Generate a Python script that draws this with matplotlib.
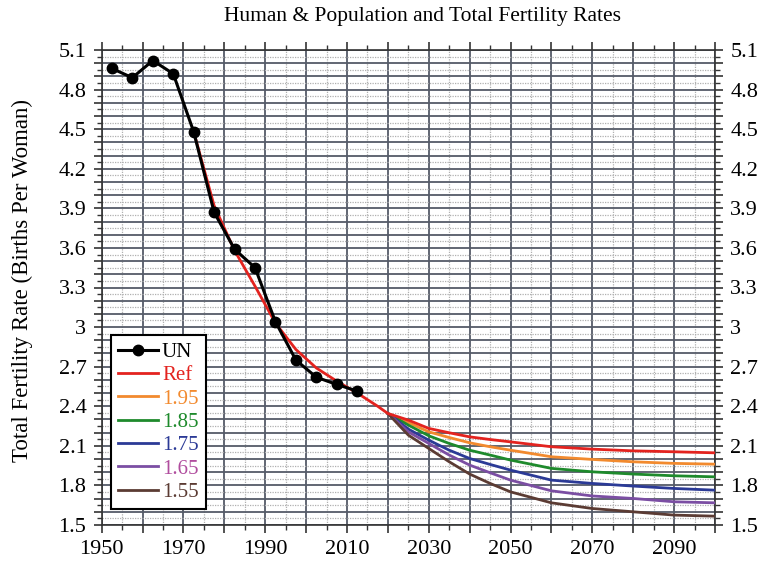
import matplotlib
matplotlib.use("Agg")
import matplotlib.pyplot as plt
from matplotlib.ticker import MultipleLocator, FuncFormatter

# ---- data ----
un_years = [1952.5, 1957.5, 1962.5, 1967.5, 1972.5, 1977.5, 1982.5, 1987.5,
            1992.5, 1997.5, 2002.5, 2007.5, 2012.5]
un_tfr = [4.96, 4.89, 5.02, 4.92, 4.48, 3.87, 3.59, 3.45, 3.04, 2.75, 2.62, 2.565, 2.515]

ref_years = [1972.5, 1977.5, 1982.5, 1987.5, 1992.5, 1997.5, 2002.5, 2007.5, 2012.5,
             2017.5, 2020, 2025, 2030, 2035, 2040, 2045, 2050, 2060, 2070, 2080, 2090, 2100]
ref_tfr = [4.48, 3.92, 3.58, 3.31, 3.03, 2.83, 2.69, 2.59, 2.50,
           2.40, 2.345, 2.295, 2.232, 2.199, 2.168, 2.148, 2.130, 2.093, 2.075, 2.062, 2.055, 2.047]

scen_years = [2020, 2025, 2030, 2035, 2040, 2045, 2050, 2060, 2070, 2080, 2090, 2100]
tfr_195 = [2.345, 2.277, 2.206, 2.163, 2.123, 2.093, 2.067, 2.017, 1.997, 1.979, 1.967, 1.961]
tfr_185 = [2.345, 2.257, 2.176, 2.118, 2.067, 2.030, 1.992, 1.929, 1.903, 1.886, 1.873, 1.865]
tfr_175 = [2.345, 2.227, 2.143, 2.067, 2.004, 1.959, 1.916, 1.840, 1.815, 1.795, 1.777, 1.764]
tfr_165 = [2.345, 2.206, 2.118, 2.030, 1.954, 1.896, 1.840, 1.759, 1.720, 1.701, 1.676, 1.668]
tfr_155 = [2.345, 2.181, 2.080, 1.979, 1.886, 1.815, 1.751, 1.668, 1.625, 1.600, 1.575, 1.567]

scen_labels = ["1.95", "1.85", "1.75", "1.65", "1.55"]
scen_values = [tfr_195, tfr_185, tfr_175, tfr_165, tfr_155]
scen_colors = ["#f28a2e", "#1e8a2c", "#2b3a96", "#7b4ea3", "#5b3b33"]
scen_text_colors = ["#f28a2e", "#1e8a2c", "#2b3a96", "#b04d9e", "#5b3b33"]
ref_color = "#e3231f"

x_tick_labels = [1950, 1970, 1990, 2010, 2030, 2050, 2070, 2090]

# ---- figure ----
plt.rcParams['font.family'] = ['Liberation Serif', 'DejaVu Serif']
fig = plt.figure(figsize=(7.66, 5.75), dpi=100)
ax = fig.add_axes([101.7 / 766, (575 - 525) / 575, (715 - 101.7) / 766, 475 / 575])

lw = 2.0
ax.plot(ref_years, ref_tfr, color=ref_color, lw=lw, zorder=4, label="Ref")
for vals, lab, c in zip(scen_values, scen_labels, scen_colors):
    ax.plot(scen_years, vals, color=c, lw=lw, zorder=3, label=lab)
ax.plot(un_years, un_tfr, color="black", lw=2.2, marker="o", markersize=7.5,
        zorder=5, label="UN")

ax.set_xlim(1950, 2100)
ax.set_ylim(1.5, 5.1)

ax.xaxis.set_major_locator(MultipleLocator(10))
ax.xaxis.set_minor_locator(MultipleLocator(5))
ax.yaxis.set_major_locator(MultipleLocator(0.1))
ax.yaxis.set_minor_locator(MultipleLocator(0.05))

def xfmt(v, pos):
    iv = int(round(v))
    return str(iv) if iv in x_tick_labels else ""

def yfmt(v, pos):
    k = round((v - 1.5) / 0.3, 6)
    if abs(k - round(k)) < 1e-4:
        return "%g" % round(v, 1)
    return ""

ax.xaxis.set_major_formatter(FuncFormatter(xfmt))
ax.yaxis.set_major_formatter(FuncFormatter(yfmt))

grid_c = "#555b68"
ax.grid(which="major", color=grid_c, lw=1.3, ls="-", zorder=0)
ax.grid(which="minor", color="#b0b0b0", lw=0.9, ls=(0, (1, 1)), zorder=0)
ax.set_axisbelow(True)

ax.tick_params(which="both", direction="out", top=True, right=True,
               labelright=True, labelsize=16, color="#333333", pad=5)
ax.tick_params(which="major", length=6, width=1.2)
ax.tick_params(which="minor", length=3.5, width=1.0)
for s in ax.spines.values():
    s.set_color("#333333")
    s.set_linewidth(1.2)

# legend
h, l = ax.get_legend_handles_labels()
order = ["UN", "Ref"] + scen_labels
hd = dict(zip(l, h))
leg = ax.legend([hd[k] for k in order], order, loc="upper left",
                bbox_to_anchor=(0.015, 0.40), borderaxespad=0, fancybox=False,
                framealpha=1, edgecolor="black", fontsize=15, handlelength=1.9,
                handletextpad=0.2, labelspacing=0.18, borderpad=0.35)
leg.get_frame().set_linewidth(1.5)
text_colors = ["black", ref_color] + scen_text_colors
for t, c in zip(leg.get_texts(), text_colors):
    t.set_color(c)

fig.text(422 / 766, 1 - 17 / 575, "Human & Population and Total Fertility Rates",
         ha="center", va="center", fontsize=15.5)
fig.text(22 / 766, 1 - 280 / 575, "Total Fertility Rate (Births Per Woman)",
         ha="center", va="center", rotation=90, fontsize=16.5)

fig.savefig("out.png", dpi=100)
